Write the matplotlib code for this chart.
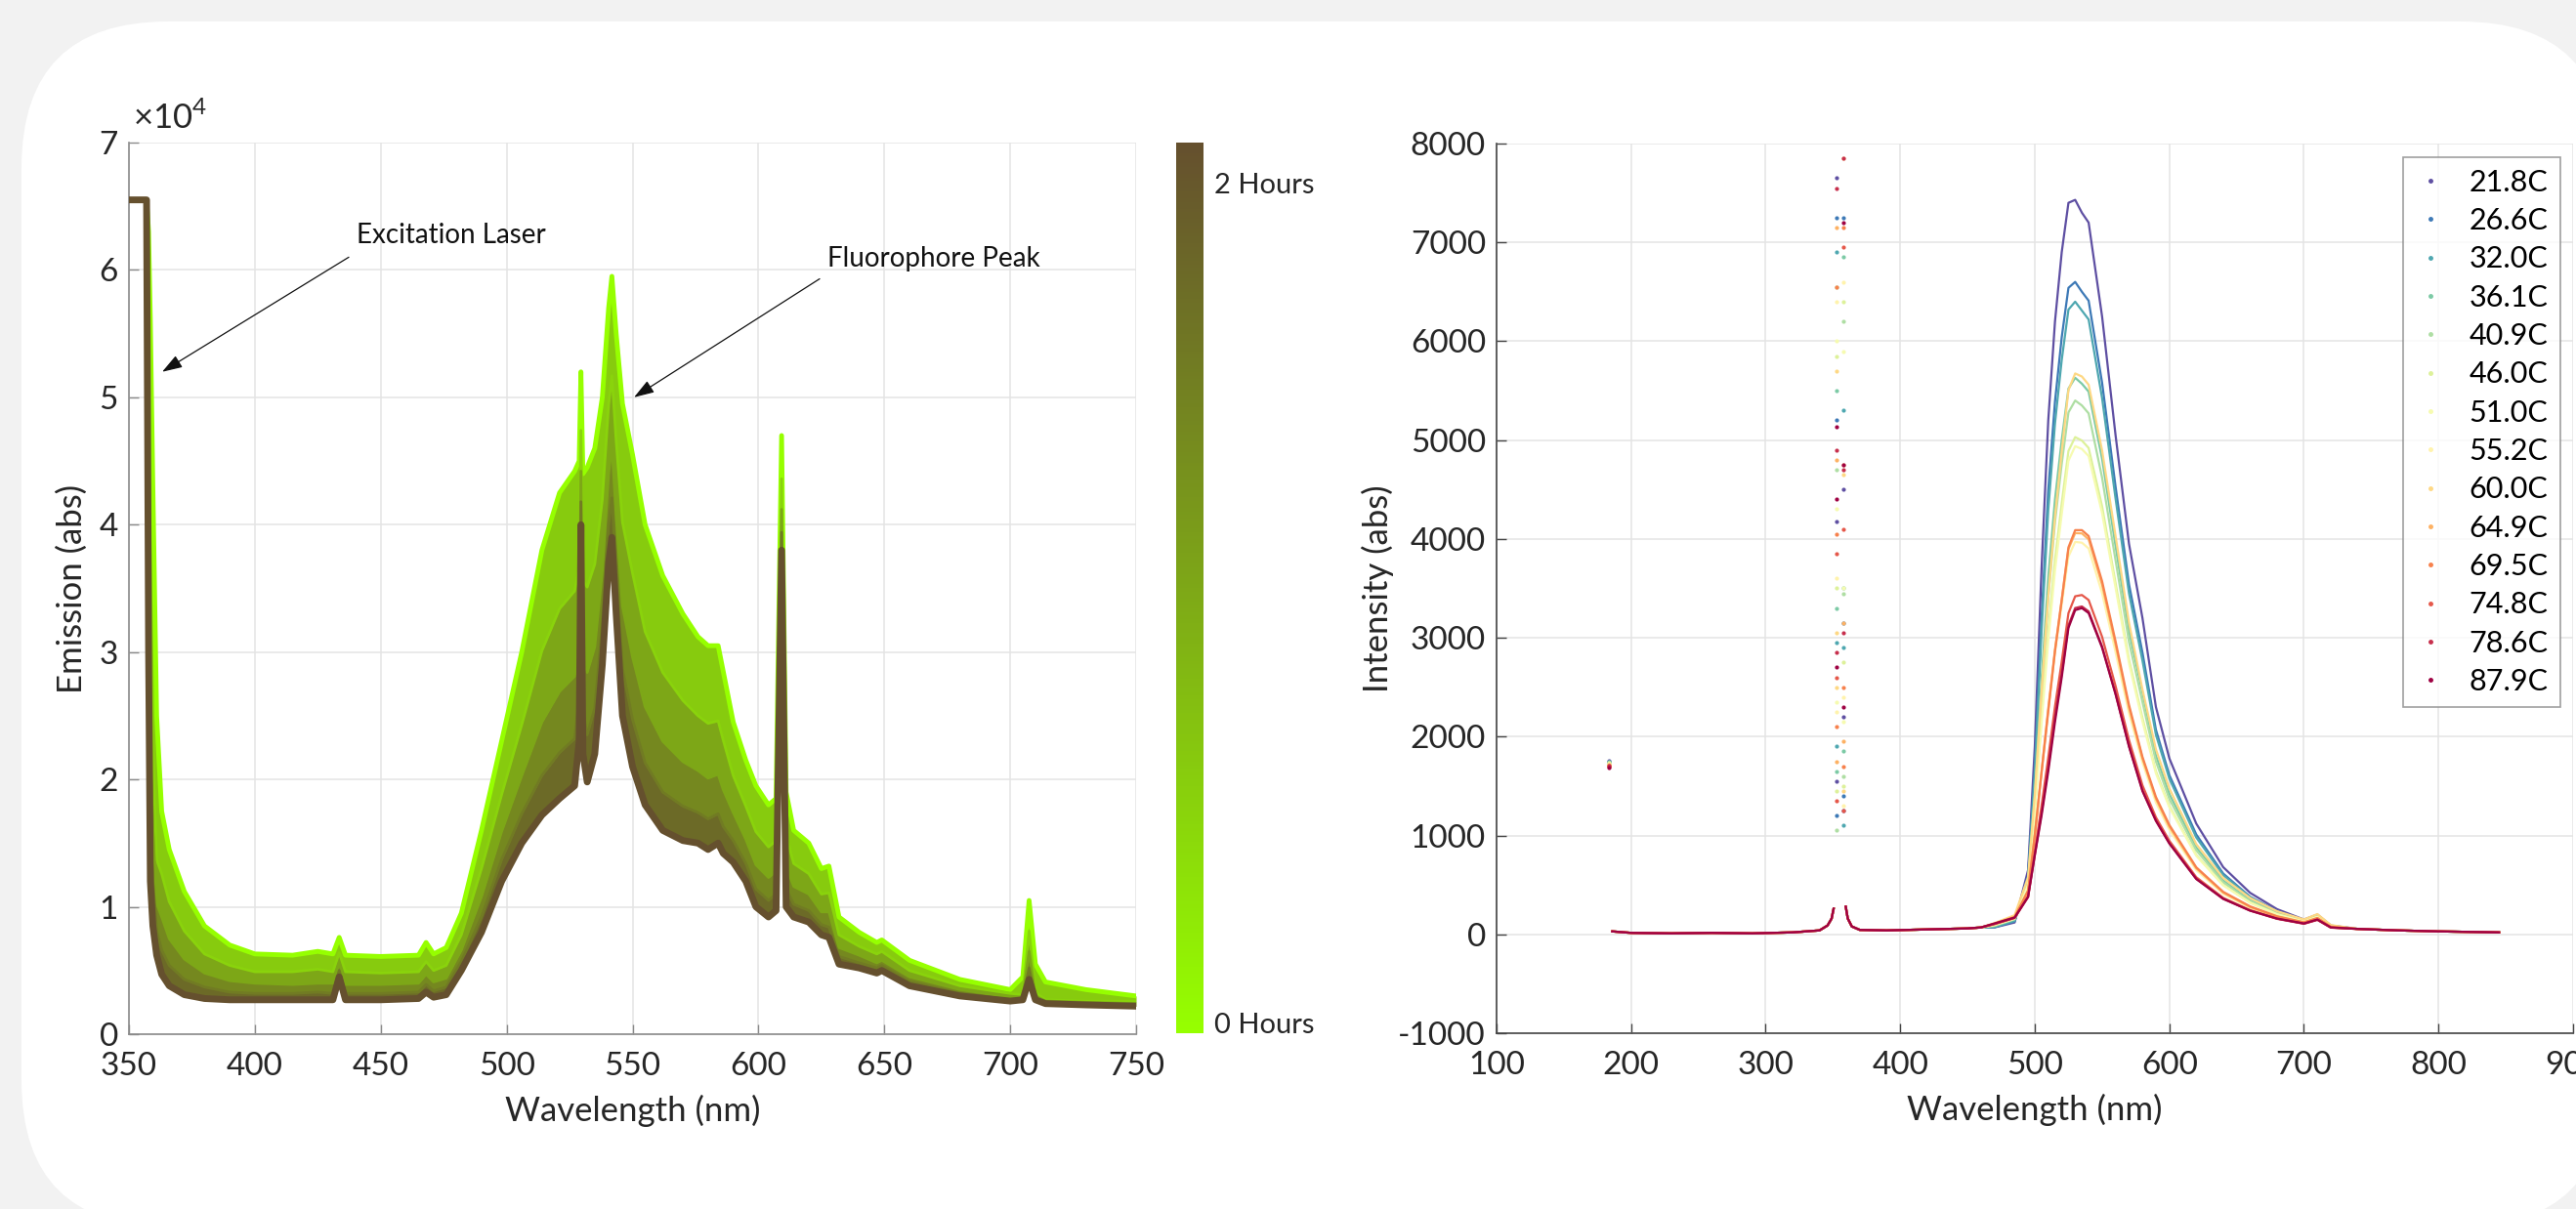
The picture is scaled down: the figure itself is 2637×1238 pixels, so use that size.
import numpy as np
import matplotlib
matplotlib.use('Agg')
import matplotlib.pyplot as plt
from matplotlib.colors import LinearSegmentedColormap, Normalize
from matplotlib.cm import ScalarMappable
from matplotlib.lines import Line2D
from matplotlib.patches import FancyBboxPatch
from matplotlib.transforms import IdentityTransform

plt.rcParams['font.family'] = ['Lato', 'DejaVu Sans']
plt.rcParams['mathtext.fontset'] = 'custom'
plt.rcParams['mathtext.rm'] = 'Lato'
plt.rcParams['axes.unicode_minus'] = False

# ---------------- left panel: emission over time (x10^4 counts) ----------------
wl_left = [350, 357, 357.8, 358.5, 359.5, 361, 363, 366, 372, 380,
           390, 400, 415, 425, 431, 433.5, 436, 450, 465, 468,
           471, 476, 482, 490, 498, 506, 514, 521, 527, 528.8,
           529.5, 530.3, 532, 535, 538, 540.5, 541.8, 543.5, 546, 550,
           555, 562, 570, 576, 580, 584, 586, 590, 595, 599,
           604, 607, 609.2, 611, 614, 620, 625, 628, 632, 640,
           647, 649, 660, 680, 700, 705, 707.5, 710, 714, 730, 750]

emis_0h = [6.55, 6.55, 6.3, 5.6, 4.3, 2.5, 1.75, 1.45, 1.12, 0.85,
           0.70, 0.63, 0.62, 0.65, 0.63, 0.76, 0.62, 0.61, 0.62, 0.72,
           0.63, 0.68, 0.95, 1.6, 2.3, 3.0, 3.8, 4.25, 4.42, 4.5,
           5.2, 4.4, 4.45, 4.6, 5.0, 5.7, 5.95, 5.5, 4.95, 4.55,
           4.0, 3.6, 3.3, 3.12, 3.05, 3.05, 2.85, 2.45, 2.15, 1.95,
           1.8, 1.85, 4.7, 1.9, 1.6, 1.5, 1.3, 1.32, 0.92, 0.80,
           0.72, 0.74, 0.58, 0.43, 0.35, 0.45, 1.05, 0.55, 0.41, 0.35, 0.30]

emis_05h = [6.55, 6.55, 4.32, 2.96, 2.23, 1.37, 1.26, 1.04, 0.81, 0.63,
            0.54, 0.49, 0.49, 0.51, 0.49, 0.64, 0.49, 0.48, 0.49, 0.57,
            0.50, 0.54, 0.78, 1.30, 1.88, 2.43, 3.01, 3.34, 3.48, 3.66,
            4.74, 3.56, 3.51, 3.69, 4.20, 4.94, 5.17, 4.66, 4.02, 3.62,
            3.16, 2.84, 2.62, 2.50, 2.44, 2.46, 2.31, 2.03, 1.79, 1.59,
            1.47, 1.52, 4.36, 1.56, 1.34, 1.26, 1.10, 1.11, 0.78, 0.69,
            0.63, 0.65, 0.50, 0.38, 0.32, 0.31, 0.81, 0.33, 0.27, 0.26, 0.26]

emis_1h = [6.55, 6.55, 3.73, 2.17, 1.61, 1.03, 0.92, 0.75, 0.59, 0.48,
           0.42, 0.40, 0.39, 0.40, 0.40, 0.56, 0.39, 0.39, 0.40, 0.47,
           0.41, 0.44, 0.66, 1.08, 1.59, 2.03, 2.45, 2.69, 2.81, 3.07,
           4.42, 2.97, 2.84, 3.04, 3.64, 4.40, 4.62, 4.07, 3.36, 2.96,
           2.57, 2.30, 2.14, 2.07, 2.01, 2.04, 1.92, 1.74, 1.53, 1.33,
           1.23, 1.28, 4.12, 1.32, 1.16, 1.10, 0.96, 0.96, 0.68, 0.62,
           0.56, 0.58, 0.45, 0.35, 0.29, 0.29, 0.65, 0.30, 0.26, 0.25, 0.24]

emis_15h = [6.55, 6.55, 3.33, 1.64, 1.2, 0.81, 0.66, 0.54, 0.43, 0.37,
            0.33, 0.32, 0.32, 0.33, 0.32, 0.50, 0.32, 0.32, 0.33, 0.39,
            0.34, 0.37, 0.57, 0.92, 1.37, 1.73, 2.03, 2.21, 2.32, 2.63,
            4.18, 2.53, 2.35, 2.56, 3.22, 4.0, 4.21, 3.63, 2.87, 2.47,
            2.13, 1.90, 1.79, 1.74, 1.69, 1.73, 1.63, 1.52, 1.34, 1.14,
            1.05, 1.10, 3.94, 1.14, 1.02, 0.97, 0.86, 0.84, 0.61, 0.56,
            0.52, 0.54, 0.41, 0.32, 0.27, 0.28, 0.52, 0.28, 0.25, 0.24, 0.23]

emis_2h = [6.55, 6.55, 3.0, 1.2, 0.85, 0.62, 0.47, 0.38, 0.31, 0.28,
           0.27, 0.27, 0.27, 0.27, 0.27, 0.45, 0.27, 0.27, 0.28, 0.33,
           0.29, 0.31, 0.5, 0.8, 1.2, 1.5, 1.72, 1.85, 1.95, 2.3,
           4.0, 2.2, 1.98, 2.2, 2.9, 3.7, 3.9, 3.3, 2.5, 2.1,
           1.8, 1.6, 1.52, 1.5, 1.45, 1.5, 1.42, 1.35, 1.2, 1.0,
           0.92, 0.97, 3.8, 1.0, 0.92, 0.88, 0.78, 0.76, 0.55, 0.52,
           0.48, 0.50, 0.38, 0.30, 0.26, 0.27, 0.43, 0.27, 0.24, 0.23, 0.22]

hours = [0, 0.5, 1, 1.5, 2]
band_shade = [0.3, 0.5, 0.68, 0.85]   # colormap position of the band between two spectra

# ---------------- right panel: intensity vs temperature ----------------
base_left_nm = [186, 200, 230, 260, 290, 320, 340, 346, 349, 350.5]
base_left_val = [30, 15, 10, 15, 10, 20, 40, 90, 160, 260]
base_right_nm = [359.5, 361, 364, 370, 390, 420, 450, 460]
base_right_val = [280, 160, 80, 45, 40, 50, 60, 70]
tail_nm = [740, 770, 800, 845]
tail_val = [55, 40, 30, 20]

em_nm = [470, 485, 495, 500, 505, 510, 515, 520, 525, 530, 535, 540, 550,
         560, 570, 580, 590, 600, 620, 640, 660, 680, 700, 710, 720]

int_21_8 = [70, 120, 650, 1900, 3700, 5200, 6200, 6900, 7400, 7430, 7300, 7200, 6250,
            5050, 3950, 3200, 2300, 1780, 1120, 680, 420, 255, 150, 200, 90]
int_26_6 = [72, 130, 594, 1680, 3200, 4490, 5390, 6040, 6540, 6600, 6500, 6410, 5580,
            4530, 3540, 2850, 2070, 1610, 1010, 615, 380, 235, 140, 190, 85]
int_32_0 = [74, 137, 585, 1625, 3060, 4290, 5170, 5810, 6320, 6400, 6310, 6220, 5425,
            4410, 3450, 2770, 2020, 1575, 980, 600, 375, 230, 140, 190, 86]
int_36_1 = [84, 151, 539, 1420, 2580, 3610, 4400, 5000, 5520, 5630, 5570, 5490, 4810,
            3930, 3070, 2445, 1810, 1420, 880, 545, 345, 216, 135, 183, 83]
int_40_9 = [87, 155, 525, 1357, 2440, 3410, 4170, 4760, 5280, 5400, 5350, 5270, 4620,
            3785, 2960, 2350, 1750, 1370, 850, 527, 336, 211, 133, 180, 82]
int_46_0 = [94, 163, 503, 1258, 2207, 3075, 3790, 4360, 4890, 5030, 4995, 4920, 4330,
            3555, 2780, 2190, 1650, 1300, 803, 500, 322, 204, 131, 177, 81]
int_51_0 = [99, 169, 501, 1233, 2135, 2971, 3680, 4251, 4791, 4938, 4910, 4838, 4261,
            3507, 2743, 2155, 1629, 1285, 794, 496, 320, 203, 131, 179, 82]
int_55_2 = [95, 157, 420, 984, 1638, 2272, 2853, 3337, 3822, 3970, 3962, 3904, 3451,
            2856, 2234, 1739, 1334, 1057, 650, 410, 267, 172, 114, 154, 71]
int_60_0 = [114, 194, 576, 1416, 2454, 3414, 4229, 4885, 5506, 5674, 5643, 5560, 4896,
            4030, 3152, 2477, 1872, 1476, 912, 570, 368, 234, 151, 205, 94]
int_64_9 = [103, 168, 435, 1003, 1648, 2282, 2880, 3384, 3897, 4059, 4056, 3996, 3537,
            2932, 2294, 1780, 1372, 1089, 669, 423, 277, 179, 119, 162, 75]
int_69_5 = [109, 177, 444, 1008, 1633, 2258, 2865, 3380, 3915, 4089, 4089, 4029, 3572,
            2965, 2320, 1795, 1390, 1106, 678, 430, 283, 183, 122, 166, 77]
int_74_8 = [105, 166, 386, 837, 1298, 1788, 2305, 2758, 3249, 3420, 3433, 3382, 3010,
            2512, 1966, 1507, 1184, 946, 578, 369, 245, 160, 109, 149, 69]
int_78_6 = [105, 167, 377, 806, 1230, 1693, 2195, 2639, 3126, 3301, 3317, 3267, 2912,
            2434, 1905, 1456, 1149, 920, 561, 359, 240, 157, 107, 146, 68]
int_87_9 = [110, 170, 380, 800, 1200, 1650, 2150, 2600, 3100, 3280, 3300, 3250, 2900,
            2430, 1900, 1450, 1150, 920, 560, 360, 240, 160, 110, 150, 70]

temp_labels = ['21.8C', '26.6C', '32.0C', '36.1C', '40.9C', '46.0C', '51.0C',
               '55.2C', '60.0C', '64.9C', '69.5C', '74.8C', '78.6C', '87.9C']

# scattered points on both flanks of the laser line, and the first (glitch) sample
laser_lo_nm = 352.3
laser_hi_nm = 357.4
laser_lo_vals = [[7650, 4180, 1550], [5200, 7250, 1200], [6900, 2950, 1900], [5500, 3300, 1650],
                 [6550, 4700, 1050], [5850, 3500, 1450], [4300, 6000, 2350], [6400, 3600, 2250],
                 [5700, 3050, 2500], [7150, 4800, 1750], [6550, 4050, 2100], [3850, 2600, 1350],
                 [7550, 4900, 2850], [5130, 4400, 2700]]
laser_hi_vals = [[4500, 2200, 1250], [7250, 3150, 1400], [5300, 2900, 1100], [6850, 3500, 1850],
                 [6200, 3450, 1600], [6400, 2750, 1500], [5900, 3500, 2150], [6600, 2400, 1300],
                 [7850, 4650, 1450], [4750, 3150, 1950], [7150, 2500, 1700], [6950, 4100, 1250],
                 [7850, 4700, 3050], [7200, 4750, 2300]]
glitch_nm = 183.5
glitch_vals = [1760, 1745, 1735, 1750, 1725, 1740, 1715, 1730, 1700, 1720, 1710, 1695, 1705, 1690]

# ---------------- figure ----------------
fig = plt.figure(figsize=(26.37, 12.38), dpi=100)
fig.patch.set_facecolor('#f2f2f2')
panel = FancyBboxPatch((22, -18), 2647, 1234, boxstyle='round,pad=0,rounding_size=150',
                       transform=IdentityTransform(), facecolor='white', edgecolor='none', zorder=0)
fig.add_artist(panel)

txt = '#262626'
cmap = LinearSegmentedColormap.from_list('age', ['#96ff00', '#65502e'])

# left
ax1 = fig.add_axes([0.05006, 0.1446, 0.39098, 0.7375])
curves = [emis_0h, emis_05h, emis_1h, emis_15h, emis_2h]
for i in range(4):
    ax1.fill_between(wl_left, curves[i], curves[i + 1], color=cmap(band_shade[i]), lw=0, zorder=2)
widths = [3.5, 2.0, 2.0, 2.0, 5]
for h, c, w in zip(hours, curves, widths):
    ax1.plot(wl_left, c, color=cmap(h / 2), lw=w, zorder=3,
             solid_capstyle='round', solid_joinstyle='round')

ax1.set_xlim(350, 750)
ax1.set_ylim(0, 7)
ax1.set_xticks(range(350, 751, 50))
ax1.set_yticks(range(0, 8))
ax1.set_xlabel('Wavelength (nm)', fontsize=25, color=txt, labelpad=10)
ax1.set_ylabel('Emission (abs)', fontsize=25, color=txt, labelpad=8)
ax1.text(0.004, 1.0153, r'$\times10^{4}$', transform=ax1.transAxes, fontsize=25,
         ha='left', va='baseline', color=txt)

ax1.text(440.4, 6.27, 'Excitation Laser', fontsize=20, ha='left', va='center', color='#111111')
ax1.annotate('', xy=(363.2, 5.2), xytext=(437.3, 6.10),
             arrowprops=dict(arrowstyle='-|>,head_length=0.9,head_width=0.3', color='#111111',
                             lw=0.9, shrinkA=0, shrinkB=0, mutation_scale=14))
ax1.text(627.4, 6.09, 'Fluorophore Peak', fontsize=20, ha='left', va='center', color='#111111')
ax1.annotate('', xy=(550.6, 5.0), xytext=(624.3, 5.93),
             arrowprops=dict(arrowstyle='-|>,head_length=0.9,head_width=0.3', color='#111111',
                             lw=0.9, shrinkA=0, shrinkB=0, mutation_scale=14))

# colorbar
cax = fig.add_axes([0.45658, 0.1454, 0.01062, 0.7367])
sm = ScalarMappable(norm=Normalize(0, 2), cmap=cmap)
cb = fig.colorbar(sm, cax=cax)
cb.outline.set_visible(False)
cb.set_ticks([0.024, 1.91])
cb.set_ticklabels(['0 Hours', '2 Hours'])
cax.tick_params(length=0, labelsize=21, pad=8, colors=txt)

# right
ax2 = fig.add_axes([0.58096, 0.1454, 0.4179, 0.7359])
series = [int_21_8, int_26_6, int_32_0, int_36_1, int_40_9, int_46_0, int_51_0,
          int_55_2, int_60_0, int_64_9, int_69_5, int_74_8, int_78_6, int_87_9]
colors = plt.get_cmap('Spectral_r')(np.linspace(0, 1, len(series)))
x_right = base_right_nm + em_nm + tail_nm
handles = []
for k, s in enumerate(series):
    ax2.plot(base_left_nm, base_left_val, color=colors[k], lw=1.6, zorder=3)
    ax2.plot(x_right, base_right_val + s + tail_val, color=colors[k], lw=1.6, zorder=3)
    ax2.plot([laser_lo_nm] * 3, laser_lo_vals[k], '.', color=colors[k], ms=4, zorder=3)
    ax2.plot([laser_hi_nm] * 3, laser_hi_vals[k], '.', color=colors[k], ms=4, zorder=3)
    ax2.plot([glitch_nm], [glitch_vals[k]], '.', color=colors[k], ms=4, zorder=3)
    handles.append(Line2D([], [], marker='.', ls='none', ms=5, color=colors[k]))

ax2.set_xlim(100, 900)
ax2.set_ylim(-1000, 8000)
ax2.set_xticks(range(100, 901, 100))
ax2.set_yticks(range(-1000, 8001, 1000))
ax2.set_xlabel('Wavelength (nm)', fontsize=25, color=txt, labelpad=10)
ax2.set_ylabel('Intensity (abs)', fontsize=25, color=txt, labelpad=3)
leg = ax2.legend(handles, temp_labels, loc='upper right', bbox_to_anchor=(0.988, 0.985),
                 borderaxespad=0, fontsize=22, frameon=True, fancybox=False,
                 handlelength=1.0, handletextpad=0.8, labelspacing=0.37, borderpad=0.4)
leg.get_frame().set_edgecolor('#888888')
leg.get_frame().set_linewidth(1.2)

for ax, spc in [(ax1, '#8a8a8a'), (ax2, '#444444')]:
    ax.set_axisbelow(True)
    ax.grid(True, color='#e4e4e4', lw=1.1)
    ax.spines['top'].set_visible(False)
    ax.spines['right'].set_visible(False)
    ax.spines['left'].set_color(spc)
    ax.spines['bottom'].set_color(spc)
    ax.spines['left'].set_linewidth(1.2)
    ax.spines['bottom'].set_linewidth(1.2)
    ax.tick_params(direction='in', length=7, width=1, labelsize=24, colors=spc, labelcolor=txt, pad=8)
    ax.tick_params(axis='x', pad=13)

fig.savefig('out.png', dpi=100, facecolor=fig.get_facecolor())
